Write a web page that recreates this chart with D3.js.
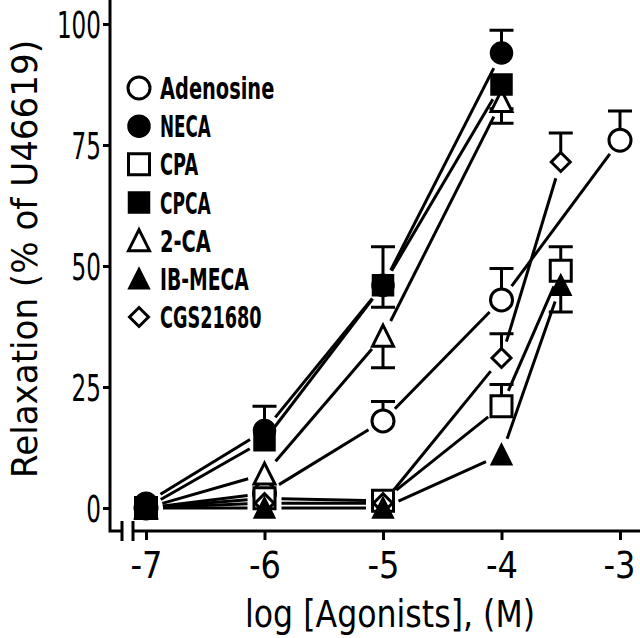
<!DOCTYPE html>
<html><head><meta charset="utf-8">
<script src="https://cdn.jsdelivr.net/npm/d3@7"></script>
<style>html,body{margin:0;padding:0;background:#fff}svg{display:block}</style>
</head><body><svg id="c" width="640" height="638"></svg>
<script>
// ---- data ----
const xTickValues = [-7, -6, -5, -4, -3];
const yTickValues = [0, 25, 50, 75, 100];
const xTitle = "log [Agonists], (M)";
const yTitle = "Relaxation (% of U46619)";
const seriesNames = ["Adenosine", "NECA", "CPA", "CPCA", "2-CA", "IB-MECA", "CGS21680"];
const seriesShapes = ["circle", "circle", "square", "square", "triangle", "triangle", "diamond"];
const seriesFilled = [false, true, false, true, false, true, false];

const adenosineX = [-7, -6, -5, -4, -3];
const adenosineY = [0, 3, 18, 43, 76];
const adenosineErrUp = [0, 0, 4, 6.5, 6];
const adenosineErrDown = [0, 0, 0, 0, 0];

const necaX = [-7, -6, -5, -4];
const necaY = [1, 16, 46, 94];
const necaErrUp = [0, 5, 8, 4.7];
const necaErrDown = [0, 0, 0, 0];

const cpaX = [-7, -6, -5, -4, -3.5];
const cpaY = [0, 2, 1.5, 21, 49];
const cpaErrUp = [0, 0, 0, 4.5, 5];
const cpaErrDown = [0, 0, 0, 0, 0];

const cpcaX = [-7, -6, -5, -4];
const cpcaY = [0, 14, 46, 87.5];
const cpcaErrUp = [0, 0, 0, 0];
const cpcaErrDown = [0, 0, 4.5, 5];

const twoCaX = [-7, -6, -5, -4];
const twoCaY = [0, 7, 35.5, 84];
const twoCaErrUp = [0, 0, 0, 0];
const twoCaErrDown = [0, 0, 6.5, 4.5];

const ibMecaX = [-7, -6, -5, -4, -3.5];
const ibMecaY = [0, 0, 0, 11, 46];
const ibMecaErrUp = [0, 0, 0, 0, 0];
const ibMecaErrDown = [0, 0, 0, 0, 5.5];

const cgsX = [-7, -6, -5, -4, -3.5];
const cgsY = [0, 1, 1, 31, 71.5];
const cgsErrUp = [0, 0, 0, 5, 6];
const cgsErrDown = [0, 0, 0, 0, 0];

const seriesX = [adenosineX, necaX, cpaX, cpcaX, twoCaX, ibMecaX, cgsX];
const seriesY = [adenosineY, necaY, cpaY, cpcaY, twoCaY, ibMecaY, cgsY];
const seriesErrUp = [adenosineErrUp, necaErrUp, cpaErrUp, cpcaErrUp, twoCaErrUp, ibMecaErrUp, cgsErrUp];
const seriesErrDown = [adenosineErrDown, necaErrDown, cpaErrDown, cpcaErrDown, twoCaErrDown, ibMecaErrDown, cgsErrDown];

// ---- build ----
const series = seriesNames.map((name, i) => ({
  name, shape: seriesShapes[i], filled: seriesFilled[i],
  pts: seriesX[i].map((x, j) => ({x, y: seriesY[i][j], up: seriesErrUp[i][j], down: seriesErrDown[i][j]}))
}));

const svg = d3.select("#c");
const FONT = "DejaVu Sans, Liberation Sans, sans-serif";
const x = d3.scaleLinear().domain([-7, -3]).range([146, 620]);
const y = d3.scaleLinear().domain([0, 100]).range([508, 24]);
const axisY0 = 531, axisX0 = 110;

// axes
const ax = svg.append("g").attr("stroke", "#000").attr("stroke-width", 3).attr("fill", "none");
ax.append("path").attr("d", `M${axisX0},0 V${axisY0} H122`);
ax.append("path").attr("d", `M122,521 V541 M133,521 V541`);
ax.append("path").attr("d", `M133,${axisY0} H640`);

const xAxis = d3.axisBottom(x).tickValues(xTickValues).tickSize(9).tickFormat(d => "-" + Math.abs(d));
const gx = svg.append("g").attr("transform", `translate(0,${axisY0})`).call(xAxis);
gx.select(".domain").remove();
gx.selectAll(".tick line").attr("stroke", "#000").attr("stroke-width", 3);
gx.selectAll(".tick text").attr("y", 47).attr("dy", 0)
  .attr("font-family", FONT).attr("font-size", 37).attr("fill", "#000")
  .attr("textLength", 32).attr("lengthAdjust", "spacingAndGlyphs");
gx.selectAll(".tick").filter(d => d === -3).select("text").attr("x", -1);

const yAxis = d3.axisLeft(y).tickValues(yTickValues).tickSize(7).tickFormat(d3.format("d"));
const gy = svg.append("g").attr("transform", `translate(${axisX0},0)`).call(yAxis);
gy.select(".domain").remove();
gy.selectAll(".tick line").attr("stroke", "#000").attr("stroke-width", 3);
gy.selectAll(".tick text").attr("x", -9).attr("dy", "0.36em")
  .attr("font-family", FONT).attr("font-size", 37).attr("fill", "#000")
  .attr("textLength", d => String(d).length * 14.7).attr("lengthAdjust", "spacingAndGlyphs");

// titles
svg.append("text").attr("x", 390).attr("y", 627).attr("text-anchor", "middle")
  .attr("font-family", FONT).attr("font-size", 37).attr("fill", "#000")
  .attr("textLength", 290).attr("lengthAdjust", "spacingAndGlyphs").text(xTitle);
svg.append("text").attr("transform", "translate(37,259) rotate(-90)").attr("text-anchor", "middle")
  .attr("font-family", FONT).attr("font-size", 36).attr("fill", "#000")
  .attr("textLength", 438).attr("lengthAdjust", "spacingAndGlyphs").text(yTitle);

// connecting lines with gaps near markers
const TRIM = 17;
const lg = svg.append("g").attr("stroke", "#000").attr("stroke-width", 3);
series.forEach(s => {
  for (let j = 1; j < s.pts.length; j++) {
    const x1 = x(s.pts[j-1].x), y1 = y(s.pts[j-1].y), x2 = x(s.pts[j].x), y2 = y(s.pts[j].y);
    const L = Math.hypot(x2 - x1, y2 - y1);
    if (L <= 2 * TRIM) continue;
    const ux = (x2 - x1) / L, uy = (y2 - y1) / L;
    lg.append("line").attr("x1", x1 + ux * TRIM).attr("y1", y1 + uy * TRIM)
      .attr("x2", x2 - ux * TRIM).attr("y2", y2 - uy * TRIM);
  }
});

// error bars
const eg = svg.append("g").attr("stroke", "#000").attr("stroke-width", 3).attr("fill", "none");
series.forEach(s => s.pts.forEach(p => {
  [[p.up, 1], [p.down, -1]].forEach(([e, sgn]) => {
    if (!e) return;
    const cx = x(p.x), cy = y(p.y), ey = y(p.y + sgn * e);
    eg.append("path").attr("d", `M${cx},${cy} V${ey} M${cx - 12},${ey} H${cx + 12}`);
  });
}));

// markers
function shapePath(shape, r) {
  if (shape === "circle") return d3.symbol(d3.symbolCircle, Math.PI * r * r)();
  if (shape === "square") return `M${-r},${-r}H${r}V${r}H${-r}Z`;
  if (shape === "triangle") return `M0,${-r - 0.5}L${r},${r - 0.5}L${-r},${r - 0.5}Z`;
  if (shape === "diamond") return `M0,${-r}L${r},0L0,${r}L${-r},0Z`;
}
const SIZE = {circle: 11, square: 10.5, triangle: 10.5, diamond: 9.5};
function drawMarker(g, s, cx, cy) {
  g.append("path").attr("d", shapePath(s.shape, SIZE[s.shape]))
    .attr("transform", `translate(${cx},${cy})`)
    .attr("fill", s.filled ? "#000" : "#fff")
    .attr("stroke", "#000").attr("stroke-width", s.filled ? 1.5 : 3)
    .attr("stroke-linejoin", "miter");
}
const mg = svg.append("g");
const drawOrder = [0, 2, 6, 4, 1, 3, 5];
drawOrder.forEach(i => {
  const s = series[i];
  s.pts.forEach(p => drawMarker(mg, s, x(p.x), y(p.y)));
});

// legend
const legY = d3.scaleLinear().domain([0, 6]).range([88, 317]);
const leg = svg.append("g");
series.forEach((s, i) => {
  drawMarker(leg, s, 139, legY(i));
  leg.append("text").attr("x", 160).attr("y", legY(i) + 11)
    .attr("font-family", FONT).attr("font-size", 30).attr("font-weight", "bold").attr("fill", "#000")
    .attr("textLength", s.name.length * 12.7).attr("lengthAdjust", "spacingAndGlyphs")
    .text(s.name);
});
</script>
</body></html>
